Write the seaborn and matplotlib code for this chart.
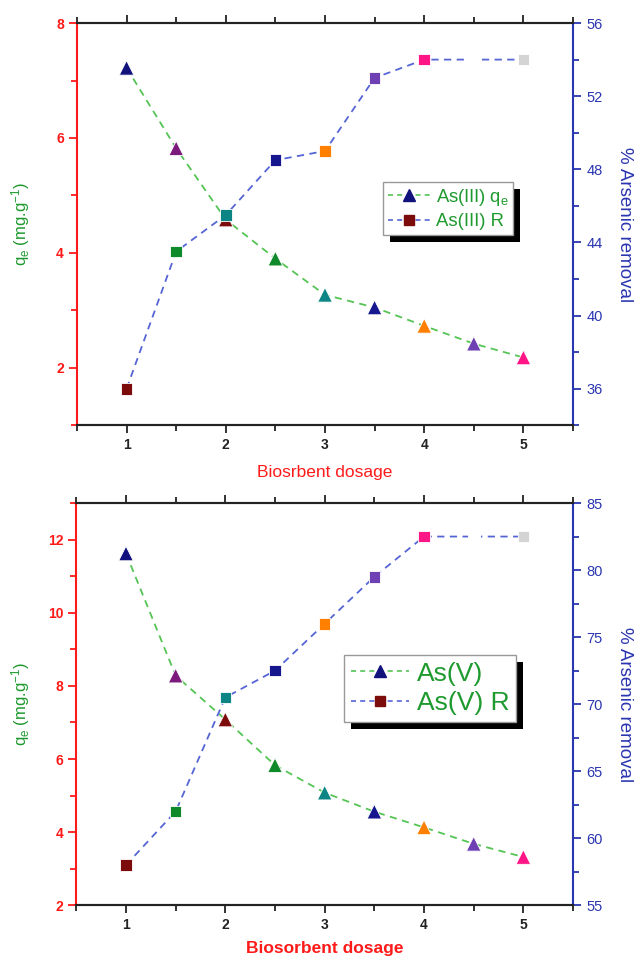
import numpy as np
import pandas as pd
import matplotlib
matplotlib.use('Agg')
import matplotlib.pyplot as plt
import matplotlib.patheffects as pe
from matplotlib.lines import Line2D
from matplotlib.ticker import MultipleLocator
import seaborn as sns

sns.set_style('ticks')
plt.rcParams['font.family'] = ['Liberation Sans', 'DejaVu Sans']
plt.rcParams['mathtext.fontset'] = 'custom'
plt.rcParams['mathtext.rm'] = 'Liberation Sans'
plt.rcParams['mathtext.it'] = 'Liberation Sans'

# dosage (x)
dosage = [1, 1.5, 2, 2.5, 3, 3.5, 4, 4.5, 5]

# As(III)
qe_as3 = [7.22, 5.82, 4.58, 3.9, 3.27, 3.05, 2.73, 2.42, 2.18]
rem_as3 = [36.0, 43.5, 45.5, 48.5, 49.0, 53.0, 54.0, 54.0, 54.0]

# As(V)
qe_as5 = [11.62, 8.28, 7.08, 5.83, 5.08, 4.56, 4.13, 3.68, 3.32]
rem_as5 = [58.0, 62.0, 70.5, 72.5, 76.0, 79.5, 82.5, 82.5, 82.5]

# marker colours (one per point, Origin style colour increment)
tri_colors = ['#12127c', '#7c1a7c', '#7c0c0c', '#0f8a2a', '#0d8585',
              '#16168f', '#ff8000', '#6f40b4', '#ff1585']
sq_colors = ['#7c0c0c', '#0f8a2a', '#0d8585', '#16168f', '#ff8000',
             '#6f40b4', '#ff1585', '#ffffff', '#d4d4d4']

GREEN_LINE = '#55c455'
BLUE_LINE = '#5565d5'
RED = '#ff1a1a'
BLUE = '#2a35b0'
TXT_GREEN = '#1f9a2f'


def draw_panel(ax, qe, rem, qlim, qmaj, rlim, rmaj, rmin, labels, xlabel, xbold,
               xpad, leg_pos, leg_size, leg_space, leg_hlen):
    ax2 = ax.twinx()
    idx = [str(i) for i in range(len(dosage))]
    df_q = pd.DataFrame({'x': dosage, 'y': qe, 'k': idx})
    df_r = pd.DataFrame({'x': dosage, 'y': rem, 'k': idx})

    sns.lineplot(data=df_q, x='x', y='y', ax=ax, color=GREEN_LINE, lw=1.3,
                 linestyle=(0, (4, 3)), zorder=2)
    sns.scatterplot(data=df_q, x='x', y='y', hue='k', palette=tri_colors,
                    marker='^', s=110, edgecolor='white', linewidth=0.6,
                    legend=False, ax=ax, zorder=3)

    sns.lineplot(data=df_r, x='x', y='y', ax=ax2, color=BLUE_LINE, lw=1.3,
                 linestyle=(0, (4, 3)), zorder=2)
    sns.scatterplot(data=df_r, x='x', y='y', hue='k', palette=sq_colors,
                    marker='s', s=70, edgecolor='white', linewidth=0.6,
                    legend=False, ax=ax2, zorder=3)

    ax.set_xlim(0.5, 5.5)
    ax.set_ylim(*qlim)
    ax2.set_ylim(*rlim)
    ax.xaxis.set_major_locator(MultipleLocator(1))
    ax.xaxis.set_minor_locator(MultipleLocator(0.5))
    ax.yaxis.set_major_locator(MultipleLocator(qmaj))
    ax.yaxis.set_minor_locator(MultipleLocator(qmaj / 2))
    ax2.yaxis.set_major_locator(MultipleLocator(rmaj))
    ax2.yaxis.set_minor_locator(MultipleLocator(rmin))

    ax.tick_params(axis='x', which='both', direction='out', top=True,
                   bottom=True, colors='#222222', width=1.3)
    ax.tick_params(axis='x', which='major', length=6, labelsize=10)
    ax.tick_params(axis='x', which='minor', length=4)
    ax.tick_params(axis='y', which='both', direction='out', colors=RED, width=1.3)
    ax.tick_params(axis='y', which='major', length=6, labelsize=10)
    ax.tick_params(axis='y', which='minor', length=4)
    ax2.tick_params(axis='y', which='both', direction='out', colors=BLUE, width=1.3)
    ax2.tick_params(axis='y', which='major', length=6, labelsize=10.5)
    ax2.tick_params(axis='y', which='minor', length=4)
    for t in ax.get_xticklabels() + ax.get_yticklabels():
        t.set_fontweight('bold')

    for s in ['top', 'bottom']:
        ax.spines[s].set_color('#222222')
        ax.spines[s].set_linewidth(1.5)
        ax2.spines[s].set_color('#222222')
        ax2.spines[s].set_linewidth(1.5)
    ax.spines['left'].set_color(RED)
    ax.spines['left'].set_linewidth(1.5)
    ax2.spines['left'].set_visible(False)
    ax.spines['right'].set_visible(False)
    ax2.spines['right'].set_color(BLUE)
    ax2.spines['right'].set_linewidth(1.5)

    ax.set_xlabel(xlabel, color=RED, fontsize=12.5,
                  fontweight='bold' if xbold else 'normal', labelpad=xpad)
    ax.set_ylabel(r'q$_\mathregular{e}$ (mg.g$^\mathregular{-1}$)',
                  color=TXT_GREEN, fontsize=12)
    ax.yaxis.set_label_coords(-0.09, 0.5)
    ax2.set_ylabel('% Arsenic removal', color=BLUE, fontsize=13.5,
                   rotation=270, labelpad=22)

    h1 = Line2D([], [], color=GREEN_LINE, linestyle=(0, (3, 2.5)), lw=1.2,
                marker='^', markersize=9,
                markerfacecolor=tri_colors[0], markeredgecolor=tri_colors[0])
    h2 = Line2D([], [], color=BLUE_LINE, linestyle=(0, (3, 2.5)), lw=1.2,
                marker='s', markersize=7,
                markerfacecolor=sq_colors[0], markeredgecolor=sq_colors[0])
    leg = ax2.legend([h1, h2], labels, loc='upper left', bbox_to_anchor=leg_pos,
                     borderaxespad=0, fancybox=False, framealpha=1,
                     edgecolor='#999999', fontsize=leg_size,
                     handlelength=leg_hlen,
                     handletextpad=0.3, labelspacing=leg_space, borderpad=0.25)
    for t in leg.get_texts():
        t.set_color(TXT_GREEN)
    leg.get_frame().set_linewidth(1.0)
    leg.get_frame().set_path_effects([
        pe.SimplePatchShadow(offset=(5, -5), shadow_rgbFace='black', alpha=1),
        pe.Normal()])
    return ax2


fig = plt.figure(figsize=(6.36, 9.6), dpi=100)
ax_top = fig.add_axes([0.121, 0.557, 0.780, 0.419])
ax_bot = fig.add_axes([0.120, 0.057, 0.781, 0.419])

draw_panel(ax_top, qe_as3, rem_as3, (1, 8), 2, (34, 56), 4, 2,
           [r'As(III) q$_\mathregular{e}$', 'As(III) R'],
           'Biosrbent dosage', False, 9, (0.617, 0.604), 13.3, 0.3, 2.3)
draw_panel(ax_bot, qe_as5, rem_as5, (2, 13), 2, (55, 85), 5, 2.5,
           ['As(V)', 'As(V) R'],
           'Biosorbent dosage', True, 6, (0.539, 0.622), 19, 0.2, 2.2)

fig.savefig('out.png', dpi=100)
